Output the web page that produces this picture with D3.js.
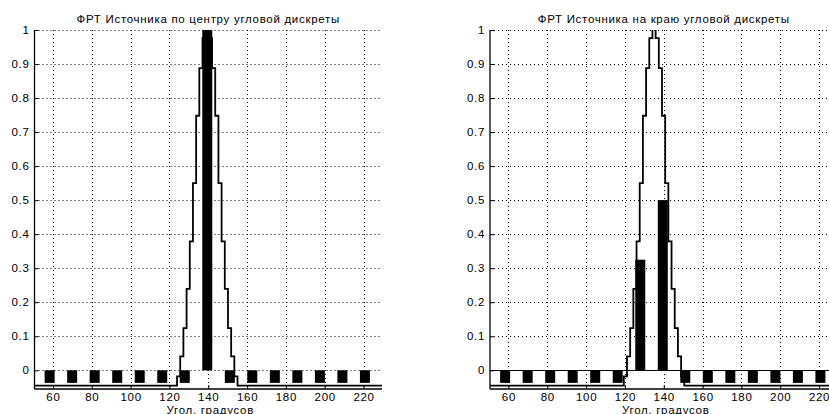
<!DOCTYPE html>
<html>
<head>
<meta charset="utf-8">
<script src="https://cdn.jsdelivr.net/npm/d3@7"></script>
<style>
body { margin: 0; background: #fff; overflow: hidden; }
text { font-family: "Liberation Sans", Arial, sans-serif; fill: #000; letter-spacing: 0.7px; }
</style>
</head>
<body>
<script>
// angular discretes (deg) and bar values
var discreteAngles = [58.3, 69.9, 81.5, 93.1, 104.7, 116.3, 127.9, 139.5, 151.1, 162.7, 174.3, 185.9, 197.5, 209.1, 220.7, 232.1];
var barsCenter = [-0.037, -0.037, -0.037, -0.037, -0.037, -0.037, -0.037, 1.0, -0.037, -0.037, -0.037, -0.037, -0.037, -0.037, -0.037, -0.037];
var barsEdge = [-0.037, -0.037, -0.037, -0.037, -0.037, -0.037, 0.325, 0.5, -0.037, -0.037, -0.037, -0.037, -0.037, -0.037, -0.037, -0.037];

// stairs (step after): x of each step start, level
var stairsCenterX = [50.5, 123.92, 125.56, 127.2, 128.84, 130.48, 132.12, 133.76, 135.4, 137.04, 138.68, 140.32, 141.96, 143.6, 145.24, 146.88, 148.52, 150.16, 151.8, 153.44, 155.08, 232];
var stairsCenterY = [-0.045, -0.018, 0.041, 0.124, 0.239, 0.379, 0.55, 0.748, 0.888, 0.976, 1.02, 0.976, 0.888, 0.748, 0.55, 0.379, 0.239, 0.124, 0.041, -0.018, -0.045, -0.045];
var stairsEdgeX = [50.5, 119.42, 121.06, 122.7, 124.34, 125.98, 127.62, 129.26, 130.9, 132.54, 134.18, 135.82, 137.46, 139.1, 140.74, 142.38, 144.02, 145.66, 147.3, 148.94, 150.58, 232];
var stairsEdgeY = [-0.045, -0.018, 0.041, 0.124, 0.239, 0.379, 0.55, 0.748, 0.888, 0.976, 1.02, 0.976, 0.888, 0.748, 0.55, 0.379, 0.239, 0.124, 0.041, -0.018, -0.045, -0.045];

var xTicks = [60, 80, 100, 120, 140, 160, 180, 200, 220];
var yTicks = [0, 0.1, 0.2, 0.3, 0.4, 0.5, 0.6, 0.7, 0.8, 0.9, 1];
var titles = ["ФРТ Источника по центру угловой дискреты", "ФРТ Источника на краю угловой дискреты"];
var xLabel = "Угол, градусов";

var W = 829, H = 414;
var pw = 347.5, plotTop = 30, plotBottom = 389;
var fs = 11.5;

var svg = d3.select("body").append("svg")
    .attr("width", W)
    .attr("height", H);

function drawPanel(i, x0, bars, sx, sy, zeroLine) {
    var x = d3.scaleLinear().domain([50.5, 229.5]).range([x0, x0 + pw]);
    var y = d3.scaleLinear().domain([-0.055, 1]).range([plotBottom, plotTop]);
    var g = svg.append("g");

    var clipId = "clip" + i;
    g.append("clipPath").attr("id", clipId)
        .append("rect")
        .attr("x", x0).attr("y", plotTop)
        .attr("width", pw).attr("height", plotBottom - plotTop);

    // dotted grid
    g.selectAll(".gx").data(xTicks).enter().append("line")
        .attr("x1", d => Math.round(x(d)) + 0.5).attr("x2", d => Math.round(x(d)) + 0.5)
        .attr("y1", plotTop).attr("y2", plotBottom)
        .attr("stroke", "#000").attr("stroke-width", 1)
        .attr("stroke-dasharray", "1,3");
    g.selectAll(".gy").data(yTicks).enter().append("line")
        .attr("x1", x0).attr("x2", x0 + pw)
        .attr("y1", d => Math.round(y(d)) + 0.5).attr("y2", d => Math.round(y(d)) + 0.5)
        .attr("stroke", "#000").attr("stroke-width", 1)
        .attr("stroke-dasharray", "1,3");

    var plot = g.append("g").attr("clip-path", "url(#" + clipId + ")");

    var bw = x(55.65) - x(50.5);
    plot.selectAll("rect.bar").data(bars).enter().append("rect")
        .attr("class", "bar")
        .attr("x", (d, k) => x(discreteAngles[k]) - bw / 2)
        .attr("width", bw)
        .attr("y", d => y(Math.max(d, 0)))
        .attr("height", d => Math.abs(y(d) - y(0)))
        .attr("fill", "#000");

    if (zeroLine) {
        plot.append("line")
            .attr("x1", x0).attr("x2", x0 + pw)
            .attr("y1", Math.round(y(0)) + 0.5).attr("y2", Math.round(y(0)) + 0.5)
            .attr("stroke", "#000").attr("stroke-width", 1);
    }

    var pts = sx.map((v, k) => [v, sy[k]]);
    var line = d3.line()
        .x(d => x(d[0]))
        .y(d => y(d[1]))
        .curve(d3.curveStepAfter);
    plot.append("path")
        .attr("d", line(pts))
        .attr("fill", "none")
        .attr("stroke", "#000")
        .attr("stroke-width", 1.8);

    // axes
    var ax = g.append("g").attr("transform", "translate(0," + plotBottom + ")")
        .call(d3.axisBottom(x).tickValues(xTicks).tickSize(-4).tickPadding(4).tickFormat(d3.format("d")));
    var ay = g.append("g").attr("transform", "translate(" + x0 + ",0)")
        .call(d3.axisLeft(y).tickValues(yTicks).tickSize(-4).tickPadding(5).tickFormat(d => d === 0 || d === 1 ? d : d3.format(".1f")(d)));
    [ax, ay].forEach(a => {
        a.select(".domain").attr("stroke", "#000").attr("stroke-width", 1.3);
        a.selectAll(".tick line").attr("stroke", "#000");
        a.selectAll("text").attr("font-size", fs)
            .style("font-family", "'Liberation Sans', Arial, sans-serif");
    });
    ay.select(".domain").attr("d", "M0," + plotTop + "V" + plotBottom);
    ax.select(".domain").attr("d", "M" + x0 + ",0H" + (x0 + pw));

    g.append("text")
        .attr("x", x0 + pw / 2).attr("y", 23)
        .attr("text-anchor", "middle")
        .attr("font-size", fs)
        .text(titles[i]);
    g.append("text")
        .attr("x", x0 + pw / 2 + 2).attr("y", 413.5)
        .attr("text-anchor", "middle")
        .attr("font-size", fs)
        .text(xLabel);
}

drawPanel(0, 34.5, barsCenter, stairsCenterX, stairsCenterY, false);
drawPanel(1, 490, barsEdge, stairsEdgeX, stairsEdgeY, true);
</script>
</body>
</html>
